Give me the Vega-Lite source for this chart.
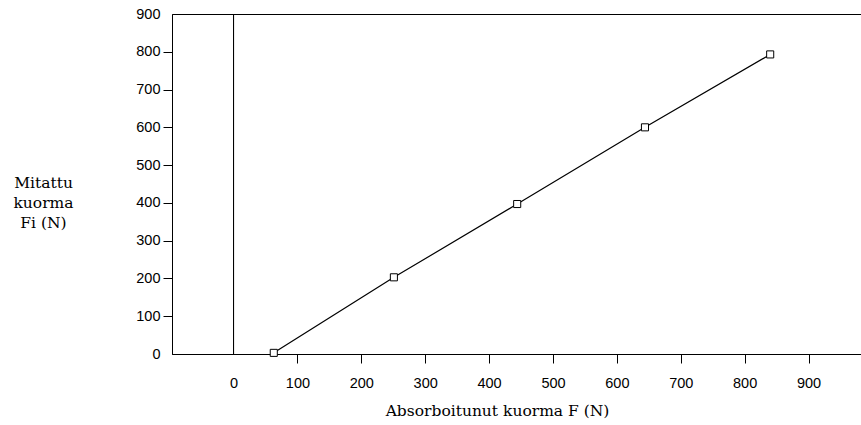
{
  "$schema": "https://vega.github.io/schema/vega-lite/v6.json",
  "width": 690,
  "height": 340,
  "padding": {"left": 172, "top": 14, "right": 0, "bottom": 71},
  "autosize": {"type": "none"},
  "background": "white",
  "config": {
    "view": {"stroke": "black", "strokeWidth": 1},
    "axis": {
      "grid": false,
      "domainColor": "black",
      "domainWidth": 1,
      "tickColor": "black",
      "tickWidth": 1,
      "tickSize": 9,
      "labelOverlap": false,
      "labelFont": "Liberation Sans",
      "labelFontSize": 14.5,
      "labelColor": "black",
      "titleFont": "DejaVu Serif",
      "titleFontSize": 15.5,
      "titleFontWeight": "normal",
      "titleColor": "black"
    }
  },
  "data": {
    "values": [
      {"F": 63, "Fi": 3},
      {"F": 251, "Fi": 203},
      {"F": 444, "Fi": 397},
      {"F": 644, "Fi": 600},
      {"F": 840, "Fi": 793}
    ]
  },
  "encoding": {
    "x": {
      "field": "F",
      "type": "quantitative",
      "scale": {"domain": [-96.3, 983.7], "nice": false, "zero": false},
      "axis": {
        "title": "Absorboitunut kuorma F (N)",
        "values": [0, 100, 200, 300, 400, 500, 600, 700, 800, 900],
        "labelPadding": 13,
        "tickOpacity": {"condition": {"test": "datum.value == 0", "value": 0}, "value": 1},
        "titleX": 325,
        "titleY": 61,
        "titleBaseline": "alphabetic",
        "titleAnchor": "middle"
      }
    },
    "y": {
      "field": "Fi",
      "type": "quantitative",
      "scale": {"domain": [0, 900], "nice": false, "zero": false},
      "axis": {
        "title": ["Mitattu", "kuorma", "Fi (N)"],
        "values": [0, 100, 200, 300, 400, 500, 600, 700, 800, 900],
        "tickCount": 10,
        "labelPadding": 3,
        "tickOpacity": {"condition": {"test": "datum.value == 0 || datum.value == 900", "value": 0}, "value": 1},
        "titleAngle": 0,
        "titleAlign": "center",
        "titleBaseline": "middle",
        "titleLineHeight": 20,
        "titleX": -129,
        "titleY": 168
      }
    }
  },
  "layer": [
    {
      "mark": {"type": "line", "color": "black", "strokeWidth": 1.2}
    },
    {
      "mark": {"type": "rule", "color": "black", "strokeWidth": 1},
      "encoding": {
        "x": {"datum": 0, "type": "quantitative"},
        "y": {"datum": 0, "type": "quantitative"},
        "y2": {"datum": 900}
      }
    },
    {
      "mark": {"type": "point", "shape": "square", "filled": true, "fill": "white", "stroke": "black", "strokeWidth": 1, "size": 50, "opacity": 1}
    }
  ]
}
